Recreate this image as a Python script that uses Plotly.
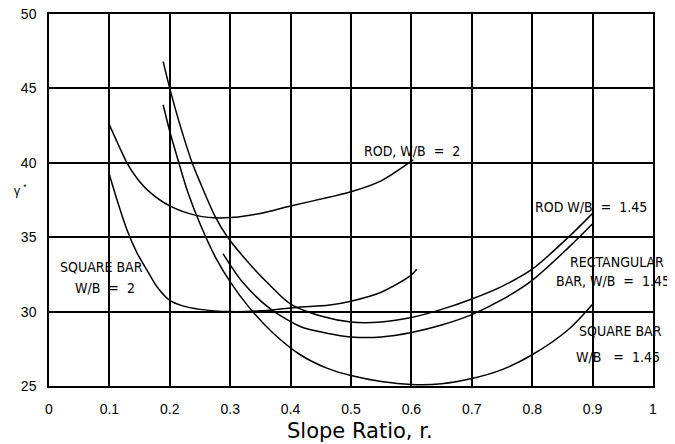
import plotly.graph_objects as go

# Slope ratio values and gamma* for each curve
rod_w2_x = [0.10, 0.115, 0.129, 0.145, 0.165, 0.20, 0.245, 0.29, 0.35, 0.40, 0.465, 0.50, 0.548, 0.603]
rod_w2_y = [42.55, 41.2, 40.0, 39.0, 38.1, 37.1, 36.45, 36.3, 36.6, 37.1, 37.7, 38.05, 38.75, 40.2]

sq_w2_x = [0.10, 0.115, 0.129, 0.145, 0.162, 0.18, 0.20, 0.22, 0.25, 0.30, 0.35, 0.40, 0.465, 0.50, 0.55, 0.598, 0.609]
sq_w2_y = [39.2, 37.2, 35.5, 34.0, 32.8, 31.6, 30.75, 30.4, 30.15, 30.0, 30.05, 30.25, 30.45, 30.7, 31.3, 32.4, 32.85]

rod_145_x = [0.189, 0.20, 0.215, 0.237, 0.25, 0.275, 0.294, 0.33, 0.365, 0.40, 0.45, 0.50, 0.55, 0.60, 0.65, 0.70, 0.75, 0.80, 0.86, 0.90]
rod_145_y = [46.8, 45.0, 42.8, 40.0, 38.7, 36.4, 35.1, 33.3, 31.8, 30.5, 29.7, 29.3, 29.3, 29.6, 30.15, 30.85, 31.7, 32.85, 35.0, 36.6]

rect_145_x = [0.288, 0.32, 0.366, 0.416, 0.46, 0.50, 0.55, 0.60, 0.65, 0.70, 0.75, 0.80, 0.86, 0.90]
rect_145_y = [33.9, 32.0, 30.2, 29.0, 28.55, 28.3, 28.3, 28.6, 29.1, 29.8, 30.8, 32.1, 34.3, 35.9]

sq_145_x = [0.189, 0.20, 0.215, 0.23, 0.25, 0.275, 0.30, 0.333, 0.37, 0.416, 0.46, 0.50, 0.55, 0.60, 0.65, 0.70, 0.75, 0.80, 0.86, 0.90]
sq_145_y = [43.9, 42.1, 40.0, 38.0, 35.9, 33.7, 32.0, 30.2, 28.6, 27.1, 26.2, 25.7, 25.3, 25.1, 25.15, 25.5, 26.1, 27.1, 28.8, 30.5]

x_ticks = [0, 0.1, 0.2, 0.3, 0.4, 0.5, 0.6, 0.7, 0.8, 0.9, 1]
x_tick_labels = ["0", "0.1", "0.2", "0.3", "0.4", "0.5", "0.6", "0.7", "0.8", "0.9", "1"]
y_ticks = [25, 30, 35, 40, 45, 50]

FONT = "Liberation Sans, Arial, sans-serif"
NARROW = "Liberation Sans Narrow, Arial Narrow, DejaVu Sans Condensed, Liberation Sans, sans-serif"
SP = "\u00a0 "

fig = go.Figure()
for xs, ys, nm in [
    (rod_w2_x, rod_w2_y, "ROD, W/B = 2"),
    (sq_w2_x, sq_w2_y, "SQUARE BAR W/B = 2"),
    (rod_145_x, rod_145_y, "ROD W/B = 1.45"),
    (rect_145_x, rect_145_y, "RECTANGULAR BAR, W/B = 1.45"),
    (sq_145_x, sq_145_y, "SQUARE BAR W/B = 1.45"),
]:
    fig.add_trace(go.Scatter(x=xs, y=ys, mode="lines", name=nm,
                             line=dict(color="black", width=1.5, shape="spline", smoothing=0.8),
                             showlegend=False, hoverinfo="skip"))

ann_font = dict(family=NARROW, size=14, color="black")
annotations = [
    dict(x=0.601, y=40.8, text="ROD, W/B" + SP + "=" + SP + "2", xanchor="center"),
    dict(x=0.897, y=37.03, text="ROD W/B" + SP + "=" + SP + "1.45", xanchor="center"),
    dict(x=0.941, y=33.35, text="RECTANGULAR", xanchor="center"),
    dict(x=0.874, y=28.7, text="SQUARE BAR", xanchor="left"),
    dict(x=0.869, y=26.95, text="W/B\u00a0\u00a0 =" + SP + "1.45", xanchor="left"),
    dict(x=0.015, y=33.0, text="SQUARE BAR", xanchor="left"),
    dict(x=0.040, y=31.6, text="W/B" + SP + "=" + SP + "2", xanchor="left"),
]
for a in annotations:
    fig.add_annotation(xref="x", yref="y", showarrow=False, font=ann_font,
                       yanchor="middle", **a)

# second line of the rectangular-bar label reaches past the plot edge, so use paper coords
fig.add_annotation(xref="paper", yref="paper", x=1.032, y=0.282, showarrow=False,
                   text="BAR, W/B" + SP + "=" + SP + "1.45", font=ann_font,
                   xanchor="right", yanchor="middle")

# y-axis symbol
fig.add_annotation(xref="paper", yref="paper", x=-0.048, y=0.527, showarrow=False,
                   text="γ <sup>*</sup>", font=dict(family=FONT, size=12, color="black"),
                   xanchor="center", yanchor="middle")
# x-axis title
fig.add_annotation(xref="paper", yref="paper", x=0.515, y=-0.121, showarrow=False,
                   text="Slope Ratio, r.", font=dict(family="DejaVu Sans, sans-serif", size=21, color="black"),
                   xanchor="center", yanchor="middle")

fig.update_xaxes(range=[0, 1], tickvals=x_ticks, ticktext=x_tick_labels,
                 showgrid=True, gridcolor="black", gridwidth=1.5,
                 showline=True, linecolor="black", linewidth=1.5, mirror=True,
                 zeroline=False, ticks="", ticklabelstandoff=9, automargin=False,
                 ticklabeloverflow="allow",
                 tickfont=dict(family=FONT, size=14, color="black"))
fig.update_yaxes(range=[25, 50], tickvals=y_ticks,
                 showgrid=True, gridcolor="black", gridwidth=1.5,
                 showline=True, linecolor="black", linewidth=1.5, mirror=True,
                 zeroline=False, ticks="", ticklabelstandoff=8, automargin=False,
                 ticklabeloverflow="allow",
                 tickfont=dict(family=FONT, size=14, color="black"))

# page body has an 8px default margin, so the figure is sized to fit the 675x444 window
fig.update_layout(width=667, height=436, margin=dict(l=41, r=22, t=6, b=58),
                  plot_bgcolor="white", paper_bgcolor="white", showlegend=False)

fig.write_html("out.html")
